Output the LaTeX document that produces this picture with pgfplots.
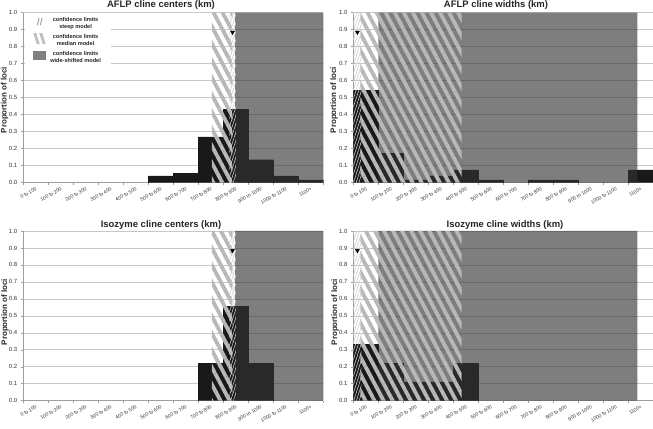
\documentclass[border=0pt]{standalone}
\usepackage{fontspec}
\setmainfont{Liberation Sans}
\usepackage{pgfplots}
\pgfplotsset{compat=1.18}
\usetikzlibrary{patterns.meta}

\definecolor{barc}{gray}{0.1}
\definecolor{widec}{gray}{0.2}
\definecolor{medc}{gray}{0.72}
\definecolor{steepc}{gray}{0.8}
\definecolor{gridc}{gray}{0.78}
\definecolor{axc}{gray}{0.62}
\definecolor{txtc}{gray}{0.2}

\pgfplotsset{
 panel/.style={
  scale only axis, width=300bp, height=170bp, anchor=south west,
  xmin=-0.5, xmax=11.5, ymin=0, ymax=1,
  axis x line*=bottom, axis y line*=left,
  axis line style={axc, line width=0.5bp},
  xtick={-0.5,0.5,1.5,2.5,3.5,4.5,5.5,6.5,7.5,8.5,9.5,10.5,11.5},
  x tick label as interval,
  xticklabels={0 to 100,100 to 200,200 to 300,300 to 400,400 to 500,500 to 600,600 to 700,700 to 800,800 to 900,900 to 1000,1000 to 1100,1100+},
  ytick={0,0.1,0.2,0.3,0.4,0.5,0.6,0.7,0.8,0.9,1},
  yticklabel style={/pgf/number format/fixed, /pgf/number format/fixed zerofill, /pgf/number format/precision=1, /pgf/number format/assume math mode=true, font=\fontsize{6}{7}\selectfont, text=txtc},
  xticklabel style={font=\fontsize{5}{6}\selectfont, text=txtc, rotate=30, anchor=north east, inner sep=1bp},
  tick align=outside, major tick length=2.5bp,
  tick style={axc, line width=0.5bp},
  ymajorgrids, major grid style={gridc, line width=0.6bp},
 },
 bars/.style={ybar, bar width=1, bar shift=0pt, fill=barc, draw=black!90, line width=0.3bp, forget plot},
 wide/.style={fill=widec, fill opacity=0.63, draw=none, forget plot},
 median/.style={pattern={Lines[angle=-62,distance=8bp,line width=3.8bp]}, pattern color=medc, fill opacity=0.62, draw=none, forget plot},
 steep/.style={pattern={Lines[angle=72,distance=2.6bp,line width=0.6bp]}, pattern color=steepc, fill opacity=0.8, draw=none, forget plot},
 arrowmark/.style={only marks, mark=triangle*, mark size=2.3bp, mark options={rotate=180, fill=black, draw=black}, forget plot},
}

\begin{document}
\begin{tikzpicture}
\useasboundingbox (0,0) rectangle (653bp,429bp);

% ---------- AFLP cline centers ----------
\begin{axis}[panel, at={(23.3bp,246.3bp)},
  legend style={at={(axis description cs:0.006,1)}, anchor=north west, draw=none, fill=white,
    inner xsep=8bp, inner ysep=2bp, font=\fontsize{5.6}{6.6}\selectfont\bfseries, text=black!85,
    row sep=3.5bp, /tikz/every odd column/.append style={column sep=2bp}},
  legend cell align=center]
\addplot[bars] coordinates {(5,0.04)(6,0.055)(7,0.27)(8,0.43)(9,0.135)(10,0.04)(11,0.016)};
\addplot[wide] coordinates {(7.97,0)(7.97,1)(11.5,1)(11.5,0)} \closedcycle;
\addplot[median] coordinates {(7.04,0)(7.04,1)(7.86,1)(7.86,0)} \closedcycle;
\addplot[steep] coordinates {(7.74,0)(7.74,1)(8.0,1)(8.0,0)} \closedcycle;
\addplot[arrowmark] coordinates {(7.87,0.885)};
\addlegendimage{legend image code/.code={\path[draw=black!40, line width=0.9bp] (4bp,-3.5bp) -- (5.8bp,3.5bp) (7bp,-3.5bp) -- (8.8bp,3.5bp);}}
\addlegendentry{\begin{tabular}{@{}c@{}}confidence limits\\steep model\end{tabular}}
\addlegendimage{legend image code/.code={\path[fill=black!25, draw=none] (0bp,5.5bp) -- (3bp,5.5bp) -- (6.5bp,-5.5bp) -- (3.5bp,-5.5bp) -- cycle (6bp,5.5bp) -- (9bp,5.5bp) -- (12.5bp,-5.5bp) -- (9.5bp,-5.5bp) -- cycle;}}
\addlegendentry{\begin{tabular}{@{}c@{}}confidence limits\\median model\end{tabular}}
\addlegendimage{legend image code/.code={\path[fill=black!50, draw=none] (0bp,-4.5bp) rectangle (13bp,4.5bp);}}
\addlegendentry{\begin{tabular}{@{}c@{}}confidence limits\\wide-shifted model\end{tabular}}
\end{axis}

% ---------- AFLP cline widths ----------
\begin{axis}[panel, at={(353.4bp,246.3bp)}]
\addplot[bars] coordinates {(0,0.545)(1,0.173)(2,0.017)(3,0.04)(4,0.075)(5,0.017)(7,0.017)(8,0.017)(11,0.075)};
\addplot[wide] coordinates {(0.5,0)(0.5,1)(10.86,1)(10.86,0)} \closedcycle;
\addplot[median] coordinates {(-0.22,0)(-0.22,1)(3.83,1)(3.83,0)} \closedcycle;
\addplot[steep] coordinates {(-0.5,0)(-0.5,1)(-0.18,1)(-0.18,0)} \closedcycle;
\addplot[arrowmark] coordinates {(-0.34,0.885)};
\end{axis}

% ---------- Isozyme cline centers ----------
\begin{axis}[panel, height=169.7bp, at={(23.3bp,28.3bp)}]
\addplot[bars] coordinates {(7,0.222)(8,0.556)(9,0.222)};
\addplot[wide] coordinates {(7.97,0)(7.97,1)(11.5,1)(11.5,0)} \closedcycle;
\addplot[median] coordinates {(7.04,0)(7.04,1)(7.86,1)(7.86,0)} \closedcycle;
\addplot[steep] coordinates {(7.74,0)(7.74,1)(8.0,1)(8.0,0)} \closedcycle;
\addplot[arrowmark] coordinates {(7.87,0.885)};
\end{axis}

% ---------- Isozyme cline widths ----------
\begin{axis}[panel, height=169.7bp, at={(353.4bp,28.3bp)}]
\addplot[bars] coordinates {(0,0.333)(1,0.222)(2,0.111)(3,0.111)(4,0.222)};
\addplot[wide] coordinates {(0.5,0)(0.5,1)(10.86,1)(10.86,0)} \closedcycle;
\addplot[median] coordinates {(-0.22,0)(-0.22,1)(3.83,1)(3.83,0)} \closedcycle;
\addplot[steep] coordinates {(-0.5,0)(-0.5,1)(-0.18,1)(-0.18,0)} \closedcycle;
\addplot[arrowmark] coordinates {(-0.34,0.885)};
\end{axis}

% ---------- titles and axis labels ----------
\tikzset{ttl/.style={font=\fontsize{9.5}{11}\selectfont\bfseries, text=black!85, inner sep=0pt},
         ylab/.style={rotate=90, font=\fontsize{8}{9}\selectfont\bfseries, text=black!85, inner sep=0pt}}
\node[ttl] at (161bp,424bp) {AFLP cline centers (km)};
\node[ttl] at (496bp,424bp) {AFLP cline widths (km)};
\node[ttl] at (161bp,204bp) {Isozyme cline centers (km)};
\node[ttl] at (505bp,204bp) {Isozyme cline widths (km)};
\node[ylab] at (4.5bp,329bp) {Proportion of loci};
\node[ylab] at (334bp,329bp) {Proportion of loci};
\node[ylab] at (5bp,117bp) {Proportion of loci};
\node[ylab] at (335bp,117bp) {Proportion of loci};
\end{tikzpicture}
\end{document}
